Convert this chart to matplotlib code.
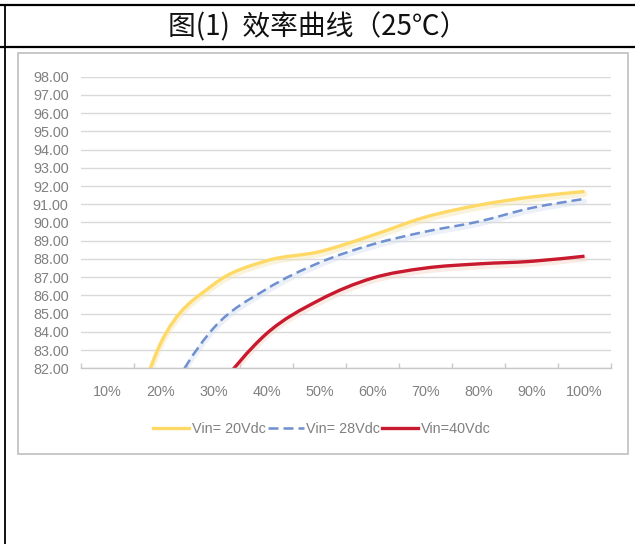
import matplotlib
matplotlib.use("Agg")
import matplotlib.pyplot as plt
from matplotlib.path import Path
from matplotlib.patches import PathPatch, Rectangle
from matplotlib.lines import Line2D
import matplotlib.transforms as mtransforms

# ---- data ----
categories = ["10%", "20%", "30%", "40%", "50%", "60%", "70%", "80%", "90%", "100%"]
vin20 = [74.5, 83.35, 86.6, 87.9, 88.4, 89.3, 90.3, 90.95, 91.4, 91.7]
vin28 = [74.0, 79.8, 84.2, 86.35, 87.8, 88.8, 89.5, 90.05, 90.8, 91.3]
vin40 = [70.0, 76.5, 80.6, 83.9, 85.75, 86.95, 87.5, 87.73, 87.87, 88.15]
series_names = ["Vin= 20Vdc", "Vin= 28Vdc", "Vin=40Vdc"]
y_ticks = [82, 83, 84, 85, 86, 87, 88, 89, 90, 91, 92, 93, 94, 95, 96, 97, 98]
title_text = "图(1)  效率曲线（25℃）"

W, H = 635, 544
fig = plt.figure(figsize=(W / 100, H / 100), dpi=100)

def fx(px):
    return px / W

def fy(py):
    return 1 - py / H

# outer frame lines
fig.add_artist(Line2D([0, 1], [fy(5), fy(5)], color="black", lw=1.6))
fig.add_artist(Line2D([0, 1], [fy(47), fy(47)], color="black", lw=1.6))
fig.add_artist(Line2D([fx(5), fx(5)], [fy(5), 0], color="black", lw=1.3))

# chart box
fig.add_artist(Rectangle((fx(17.5), fy(454)), fx(628) - fx(17.5), fy(52.5) - fy(454),
                         transform=fig.transFigure, fill=False,
                         edgecolor="#c4c4c4", lw=1.3))

fig.text(0.5, fy(27), title_text, ha="center", va="center", fontsize=20,
         family=["Noto Sans CJK SC", "DejaVu Sans"], color="#111111")

ax = fig.add_axes([fx(81), fy(368.3), fx(611) - fx(81), fy(76.7) - fy(368.3)])
ax.set_xlim(-0.5, len(categories) - 0.5)
ax.set_ylim(82, 98)
for s in ["top", "right", "left"]:
    ax.spines[s].set_visible(False)
ax.spines["bottom"].set_color("#c8c8c8")
ax.spines["bottom"].set_linewidth(1.0)
ax.set_yticks(y_ticks)
ax.set_yticklabels([f"{v:.2f}" for v in y_ticks])
ax.tick_params(axis="y", length=0, pad=9, labelsize=10.4, labelcolor="#808080")
ax.set_xticks(range(len(categories)))
ax.set_xticklabels(categories)
ax.set_xticks([i - 0.5 for i in range(len(categories) + 1)], minor=True)
ax.tick_params(axis="x", which="major", length=0, pad=12, labelsize=10.4, labelcolor="#808080")
ax.tick_params(axis="x", which="minor", direction="in", length=3.6, color="#c8c8c8", width=1.0)
for lab in ax.get_xticklabels() + ax.get_yticklabels():
    lab.set_family("Liberation Sans")
ax.grid(axis="y", color="#d9d9d9", lw=1.0)
ax.set_axisbelow(True)

def smooth_path(xs, ys):
    n = len(xs)
    verts = [(xs[0], ys[0])]
    codes = [Path.MOVETO]
    for i in range(n - 1):
        p0 = i - 1 if i > 0 else i
        p3 = i + 2 if i + 2 < n else i + 1
        c1 = (xs[i] + (xs[i + 1] - xs[p0]) / 6, ys[i] + (ys[i + 1] - ys[p0]) / 6)
        c2 = (xs[i + 1] - (xs[p3] - xs[i]) / 6, ys[i + 1] - (ys[p3] - ys[i]) / 6)
        verts += [c1, c2, (xs[i + 1], ys[i + 1])]
        codes += [Path.CURVE4] * 3
    return Path(verts, codes)

xs = list(range(len(categories)))
styles = [
    (vin20, "#FFD966", "-", 2.4, "#f5e6b0"),
    (vin28, "#6F8FCF", (0, (4.0, 2.0)), 1.8, "#d3dff2"),
    (vin40, "#C8192E", "-", 2.4, "#f4d3c6"),
]
shadow_tr = mtransforms.offset_copy(ax.transData, fig=fig, x=0, y=-2.5, units="dots")
handles = []
for (vals, col, ls, lw, shcol), name in zip(styles, series_names):
    path = smooth_path(xs, vals)
    sh = PathPatch(path, fill=False, edgecolor=shcol, lw=lw + 2.0, alpha=0.45,
                   transform=shadow_tr, capstyle="round", joinstyle="round")
    ax.add_patch(sh)
    pp = PathPatch(path, fill=False, edgecolor=col, lw=lw, linestyle=ls,
                   capstyle="butt", joinstyle="round")
    ax.add_patch(pp)
    handles.append(Line2D([], [], color=col, lw=lw, linestyle=ls, label=name))

leg = fig.legend(handles=handles, loc="center", bbox_to_anchor=(fx(322), fy(429)),
                 ncol=3, frameon=False, handlelength=2.5, handletextpad=0.2,
                 columnspacing=0.1, prop={"family": "Liberation Sans", "size": 10.4})
for t in leg.get_texts():
    t.set_color("#808080")

fig.savefig("out.png", dpi=100)
